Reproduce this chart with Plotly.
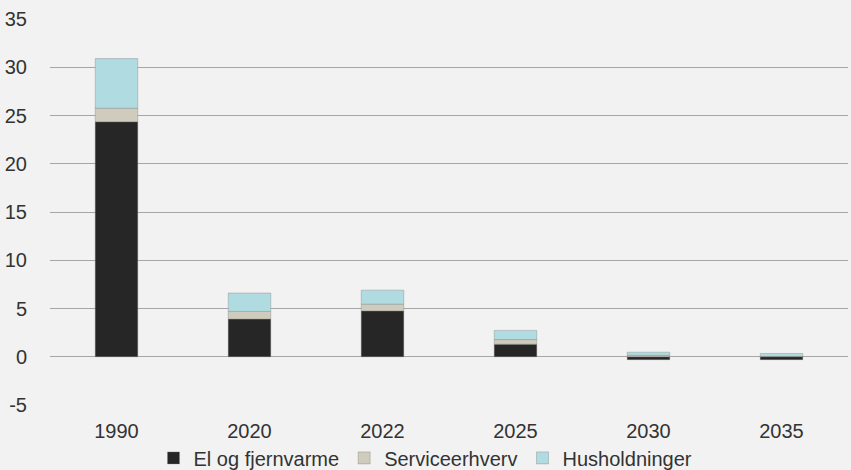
import plotly.graph_objects as go

years = ["1990", "2020", "2022", "2025", "2030", "2035"]
el_fjernvarme = [24.35, 3.9, 4.75, 1.3, -0.3, -0.3]
serviceerhverv = [1.4, 0.8, 0.7, 0.48, 0.15, 0.04]
husholdninger = [5.15, 1.9, 1.45, 0.95, 0.32, 0.3]
y_ticks = [-5, 0, 5, 10, 15, 20, 25, 30, 35]
y_tick_labels = ["-5", "0", "5", "10", "15", "20", "25", "30", "35"]

series = [
    ("El og fjernvarme", el_fjernvarme, "#262626"),
    ("Serviceerhverv", serviceerhverv, "#CFCBBD"),
    ("Husholdninger", husholdninger, "#B0DCE1"),
]

fig = go.Figure()
for name, vals, col in series:
    fig.add_trace(go.Bar(
        x=years, y=vals, name=name,
        marker=dict(color=col, line=dict(color="rgba(120,120,120,0.6)", width=0.6)),
    ))

font = "Liberation Sans, Arial, sans-serif"
fig.update_layout(
    barmode="relative",
    bargap=0.68,
    width=851, height=470,
    paper_bgcolor="#F2F2F2", plot_bgcolor="#F2F2F2",
    margin=dict(l=50, r=3, t=19, b=65, autoexpand=False),
    font=dict(family=font, size=20, color="#333333"),
    showlegend=True,
    legend=dict(orientation="h", x=0.5, xanchor="center", xref="container",
                y=-0.137, yanchor="middle", yref="paper",
                font=dict(size=20, color="#333333"), traceorder="normal",
                itemwidth=30, bgcolor="rgba(0,0,0,0)", tracegroupgap=0),
    xaxis=dict(showgrid=False, showline=False, zeroline=False,
               ticks="outside", ticklen=8, tickcolor="rgba(0,0,0,0)",
               tickfont=dict(size=20, color="#333333")),
    yaxis=dict(range=[-5, 35], tickvals=y_ticks, ticktext=y_tick_labels,
               showgrid=True, gridcolor="#A6A6A6", gridwidth=1,
               zeroline=True, zerolinecolor="#A6A6A6", zerolinewidth=1,
               showline=False, ticks="outside", ticklen=18, tickcolor="rgba(0,0,0,0)",
               tickfont=dict(size=20, color="#333333")),
)

fig.write_html("out.html")
